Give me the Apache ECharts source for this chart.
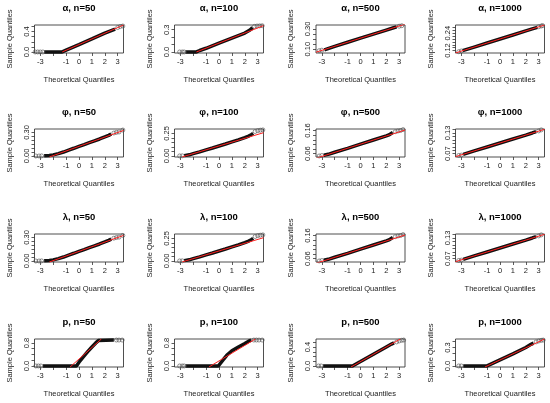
<!DOCTYPE html>
<html>
<head>
<meta charset="utf-8">
<script src="https://cdn.jsdelivr.net/npm/echarts@6/dist/echarts.min.js"></script>
<style>
html,body{margin:0;padding:0;background:#fff;}
#chart{width:550px;height:403px;}
</style>
</head>
<body>
<div id="chart"></div>
<script>
// ---------- axis data ----------
const xRange = [-3.45, 3.45];
const xTicks = [-3, -2, -1, 0, 1, 2, 3];
const xTickLabels = [-3, -1, 0, 1, 2, 3];
const xName = 'Theoretical Quantiles';
const yName = 'Sample Quantiles';

const titles = [
  'α, n=50', 'α, n=100', 'α, n=500', 'α, n=1000',
  'φ, n=50', 'φ, n=100', 'φ, n=500', 'φ, n=1000',
  'λ, n=50', 'λ, n=100', 'λ, n=500', 'λ, n=1000',
  'p, n=50', 'p, n=100', 'p, n=500', 'p, n=1000'
];

// ---------- α ----------
const a50y = [-0.0204, 0.5304];
const a50t = [0, 0.1, 0.2, 0.3, 0.4, 0.5];
const a50l = [0, 0.4];
const a50 = [[-2.7,0],[-1.3,0],[-1.2,0.01],[-1.0,0.035],[0,0.145],[1,0.257],[2,0.37],[2.5,0.42],[2.8,0.45]];
const a50o = [[-3.4,0],[-3.2,0],[-3.0,0],[-2.8,0],[3.0,0.48],[3.2,0.5],[3.4,0.51]];
const a50r = [[-1.3,0],[3.45,0.53]];

const a100y = [-0.014, 0.364];
const a100t = [0, 0.1, 0.2, 0.3];
const a100l = [0, 0.3];
const a100 = [[-2.6,0],[-1.75,0],[-1.5,0.02],[-1,0.05],[0,0.12],[1,0.188],[2,0.255],[2.3,0.285],[2.5,0.31],[2.6,0.33]];
const a100o = [[-3.05,0],[-2.85,0],[-2.7,0],[2.75,0.345],[2.95,0.35],[3.15,0.352],[3.35,0.354]];
const a100r = [[-1.75,0],[3.45,0.355]];

const a500y = [0.062, 0.338];
const a500t = [0.10, 0.15, 0.20, 0.25, 0.30];
const a500l = [0.10, 0.30];
const a500 = [[-2.8,0.093],[-2,0.128],[-1,0.168],[0,0.208],[1,0.248],[2,0.288],[2.5,0.308],[2.8,0.32]];
const a500o = [[-3.2,0.085],[-3.0,0.09],[3.0,0.326],[3.2,0.331]];
const a500r = [[-3.45,0.07],[3.45,0.346]];

const a1000y = [0.103, 0.297];
const a1000t = [0.12, 0.14, 0.16, 0.18, 0.20, 0.22, 0.24, 0.26, 0.28];
const a1000l = [0.12, 0.24];
const a1000 = [[-2.9,0.119],[-2,0.144],[-1,0.172],[0,0.2],[1,0.228],[2,0.256],[2.5,0.27],[2.9,0.281]];
const a1000o = [[-3.2,0.112],[-3.0,0.117],[3.0,0.285],[3.2,0.29],[3.3,0.293]];
const a1000r = [[-3.45,0.1034],[3.45,0.2966]];

// ---------- φ ----------
const f50y = [-0.013, 0.343];
const f50t = [0, 0.05, 0.10, 0.15, 0.20, 0.25, 0.30];
const f50l = [0, 0.30];
const f50 = [[-2.7,0.002],[-2.3,0.006],[-2.0,0.014],[-1.6,0.03],[-1.2,0.05],[-0.8,0.075],[-0.4,0.098],[0,0.122],[0.4,0.145],[0.8,0.17],[1.2,0.193],[1.6,0.216],[2.0,0.242],[2.3,0.262],[2.5,0.28]];
const f50o = [[-3.35,0],[-3.1,0],[-2.9,0.001],[2.7,0.292],[2.9,0.3],[3.1,0.305],[3.4,0.33]];
const f50r = [[-2.3,-0.013],[3.45,0.325]];

const f100y = [-0.012, 0.298];
const f100t = [0, 0.05, 0.10, 0.15, 0.20, 0.25];
const f100l = [0, 0.25];
const f100 = [[-2.7,0.003],[-2.3,0.012],[-2,0.025],[-1.5,0.045],[-1,0.067],[-0.5,0.088],[0,0.11],[0.5,0.132],[1,0.155],[1.5,0.178],[2,0.203],[2.3,0.22],[2.5,0.235],[2.65,0.25]];
const f100o = [[-3.05,0],[-2.85,0.001],[2.8,0.27],[3.0,0.28],[3.2,0.285],[3.4,0.288]];
const f100r = [[-2.85,-0.011],[3.45,0.257]];

const f500y = [0.0455, 0.1665];
const f500t = [0.06, 0.08, 0.10, 0.12, 0.14, 0.16];
const f500l = [0.06, 0.16];
const f500 = [[-2.85,0.053],[-2.5,0.057],[-2,0.066],[-1,0.083],[0,0.101],[1,0.119],[2,0.137],[2.2,0.141],[2.35,0.146],[2.5,0.151]];
const f500o = [[-3.2,0.05],[-3.0,0.052],[2.7,0.155],[2.9,0.158],[3.1,0.16],[3.3,0.164]];
const f500r = [[-3.45,0.04],[3.45,0.162]];

const f1000y = [0.0605, 0.1415];
const f1000t = [0.07, 0.08, 0.09, 0.10, 0.11, 0.12, 0.13, 0.14];
const f1000l = [0.07, 0.13];
const f1000 = [[-2.85,0.068],[-2,0.078],[-1,0.0895],[0,0.101],[1,0.1125],[2,0.124],[2.5,0.13],[2.8,0.134]];
const f1000o = [[-3.2,0.065],[-3.0,0.066],[3.0,0.136],[3.2,0.139]];
const f1000r = [[-3.45,0.0615],[3.45,0.1405]];

// ---------- λ ----------
const l50y = [-0.013, 0.343];
const l50t = [0, 0.05, 0.10, 0.15, 0.20, 0.25, 0.30];
const l50l = [0, 0.30];
const l50 = [[-2.7,0.002],[-2.3,0.006],[-2.0,0.014],[-1.6,0.03],[-1.2,0.05],[-0.8,0.075],[-0.4,0.098],[0,0.122],[0.4,0.145],[0.8,0.17],[1.2,0.193],[1.6,0.216],[2.0,0.242],[2.3,0.262],[2.5,0.278]];
const l50o = [[-3.35,0],[-3.1,0],[-2.9,0.001],[2.7,0.29],[2.9,0.298],[3.1,0.303],[3.4,0.325]];
const l50r = [[-2.3,-0.013],[3.45,0.325]];

const l100y = [-0.012, 0.298];
const l100t = [0, 0.05, 0.10, 0.15, 0.20, 0.25];
const l100l = [0, 0.25];
const l100 = [[-2.7,0.003],[-2.3,0.012],[-2,0.025],[-1.5,0.045],[-1,0.067],[-0.5,0.088],[0,0.11],[0.5,0.132],[1,0.155],[1.5,0.178],[2,0.203],[2.3,0.22],[2.5,0.235],[2.65,0.25]];
const l100o = [[-3.05,0],[-2.85,0.001],[2.8,0.27],[3.0,0.28],[3.2,0.285],[3.4,0.288]];
const l100r = [[-2.85,-0.011],[3.45,0.257]];

const l500y = [0.0455, 0.1665];
const l500t = [0.06, 0.08, 0.10, 0.12, 0.14, 0.16];
const l500l = [0.06, 0.16];
const l500 = [[-2.85,0.053],[-2.5,0.057],[-2,0.066],[-1,0.083],[0,0.101],[1,0.119],[2,0.137],[2.2,0.141],[2.35,0.146],[2.5,0.151]];
const l500o = [[-3.2,0.05],[-3.0,0.052],[2.7,0.155],[2.9,0.158],[3.1,0.16],[3.3,0.164]];
const l500r = [[-3.45,0.04],[3.45,0.162]];

const l1000y = [0.0605, 0.1415];
const l1000t = [0.07, 0.08, 0.09, 0.10, 0.11, 0.12, 0.13, 0.14];
const l1000l = [0.07, 0.13];
const l1000 = [[-2.85,0.068],[-2,0.078],[-1,0.0895],[0,0.101],[1,0.1125],[2,0.124],[2.5,0.13],[2.8,0.134]];
const l1000o = [[-3.2,0.065],[-3.0,0.066],[3.0,0.136],[3.2,0.139]];
const l1000r = [[-3.45,0.0615],[3.45,0.1405]];

// ---------- p ----------
const p50y = [-0.036, 0.936];
const p50t = [0, 0.2, 0.4, 0.6, 0.8];
const p50l = [0, 0.8];
const p50 = [[-2.8,0],[-0.2,0],[-0.1,0.06],[0,0.13],[0.3,0.3],[0.674,0.5],[1.0,0.66],[1.3,0.8],[1.5,0.88],[1.6,0.9],[2.7,0.9]];
const p50o = [[-3.35,0],[-3.15,0],[-2.95,0],[2.9,0.9],[3.1,0.9],[3.35,0.9]];
const p50r = [[-0.69,-0.036],[1.735,0.936]];

const p100y = [-0.036, 0.936];
const p100t = [0, 0.2, 0.4, 0.6, 0.8];
const p100l = [0, 0.8];
const p100 = [[-2.6,0],[-0.05,0],[0.05,0.06],[0.3,0.2],[0.6,0.37],[1.0,0.53],[1.5,0.66],[2.0,0.78],[2.3,0.86],[2.5,0.9]];
const p100o = [[-3.05,0],[-2.85,0],[-2.7,0],[2.7,0.9],[2.9,0.9],[3.1,0.9],[3.35,0.9]];
const p100r = [[-0.78,-0.036],[2.82,0.936]];

const p500y = [-0.022, 0.572];
const p500t = [0, 0.1, 0.2, 0.3, 0.4, 0.5];
const p500l = [0, 0.4];
const p500 = [[-2.9,0],[-0.62,0],[-0.5,0.02],[0,0.093],[1,0.248],[2,0.403],[2.4,0.465],[2.6,0.49]];
const p500o = [[-3.25,0],[-3.05,0],[2.8,0.51],[3.0,0.53],[3.2,0.545],[3.35,0.55]];
const p500r = [[-0.74,-0.022],[3.09,0.572]];

const p1000y = [-0.017, 0.437];
const p1000t = [0, 0.1, 0.2, 0.3, 0.4];
const p1000l = [0, 0.3];
const p1000 = [[-2.85,0],[-1.0,0],[-0.9,0.01],[0,0.098],[1,0.196],[2,0.3],[2.4,0.35],[2.6,0.37]];
const p1000o = [[-3.2,0],[-3.0,0],[2.8,0.39],[3.0,0.405],[3.2,0.415],[3.35,0.42]];
const p1000r = [[-1.17,-0.017],[3.45,0.436]];

// ---------- panel table (built from the arrays) ----------
const panels = [
  [a50, a50o, a50r, a50y, a50t, a50l], [a100, a100o, a100r, a100y, a100t, a100l],
  [a500, a500o, a500r, a500y, a500t, a500l], [a1000, a1000o, a1000r, a1000y, a1000t, a1000l],
  [f50, f50o, f50r, f50y, f50t, f50l], [f100, f100o, f100r, f100y, f100t, f100l],
  [f500, f500o, f500r, f500y, f500t, f500l], [f1000, f1000o, f1000r, f1000y, f1000t, f1000l],
  [l50, l50o, l50r, l50y, l50t, l50l], [l100, l100o, l100r, l100y, l100t, l100l],
  [l500, l500o, l500r, l500y, l500t, l500l], [l1000, l1000o, l1000r, l1000y, l1000t, l1000l],
  [p50, p50o, p50r, p50y, p50t, p50l], [p100, p100o, p100r, p100y, p100t, p100l],
  [p500, p500o, p500r, p500y, p500t, p500l], [p1000, p1000o, p1000r, p1000y, p1000t, p1000l]
];

// ---------- layout ----------
const colLeft = [34.5, 174.5, 316, 455.5];
const rowTop = [25, 129, 234, 339];
const boxW = 89, boxH = 28;
const FONT = 'Liberation Sans, Arial, sans-serif';
const axisTextColor = '#222';

const grid = [], xAxis = [], yAxis = [], series = [], title = [];
panels.forEach((p, i) => {
  const [dense, open, ref, yr, yt, yl] = p;
  const r = Math.floor(i / 4), c = i % 4;
  const step = yt[1] - yt[0];
  const dec = step >= 0.1 - 1e-9 ? 1 : 2;
  grid.push({left: colLeft[c], top: rowTop[r], width: boxW, height: boxH,
    show: true, borderColor: '#222', borderWidth: 0.8, backgroundColor: 'transparent'});
  title.push({text: titles[i], left: colLeft[c] + boxW / 2, top: rowTop[r] - 22, textAlign: 'center', padding: 0,
    textStyle: {fontFamily: FONT, fontSize: 9.5, fontWeight: 'bold', color: '#000'}});
  xAxis.push({gridIndex: i, type: 'value', min: xRange[0], max: xRange[1],
    splitLine: {show: false}, axisLine: {show: false, onZero: false},
    axisTick: {show: true, length: 3, inside: false, customValues: xTicks, lineStyle: {color: '#333', width: 0.8}},
    axisLabel: {show: true, customValues: xTickLabels, margin: 5, fontSize: 7.5, fontFamily: FONT, color: axisTextColor,
      formatter: v => String(Math.round(v))},
    name: xName, nameLocation: 'middle', nameGap: 23,
    nameTextStyle: {fontSize: 7.5, fontFamily: FONT, color: axisTextColor}});
  yAxis.push({gridIndex: i, type: 'value', min: yr[0], max: yr[1],
    splitLine: {show: false}, axisLine: {show: false, onZero: false},
    axisTick: {show: true, length: 3, inside: false, customValues: yt, lineStyle: {color: '#333', width: 0.8}},
    axisLabel: {show: true, customValues: yl, rotate: 90, margin: 4, fontSize: 7.5, fontFamily: FONT, color: axisTextColor,
      formatter: v => v.toFixed(dec)},
    name: yName, nameLocation: 'middle', nameGap: 21, nameRotate: 90,
    nameTextStyle: {fontSize: 7.5, fontFamily: FONT, color: axisTextColor}});
  series.push({type: 'line', xAxisIndex: i, yAxisIndex: i, data: dense, symbol: 'none', clip: true,
    lineStyle: {color: '#111', width: 3.5}, z: 3, silent: true});
  series.push({type: 'scatter', xAxisIndex: i, yAxisIndex: i, data: open, symbol: 'circle', symbolSize: 4, clip: true,
    itemStyle: {color: 'rgba(255,255,255,0)', borderColor: '#555', borderWidth: 0.8}, z: 3, silent: true});
  series.push({type: 'line', xAxisIndex: i, yAxisIndex: i, data: ref, symbol: 'none', clip: true,
    lineStyle: {color: '#ff2020', width: 1}, z: 4, silent: true});
});

const chart = echarts.init(document.getElementById('chart'), null, {renderer: 'canvas'});
chart.setOption({
  backgroundColor: '#fff',
  animation: false,
  title, grid, xAxis, yAxis, series
});
</script>
</body>
</html>
